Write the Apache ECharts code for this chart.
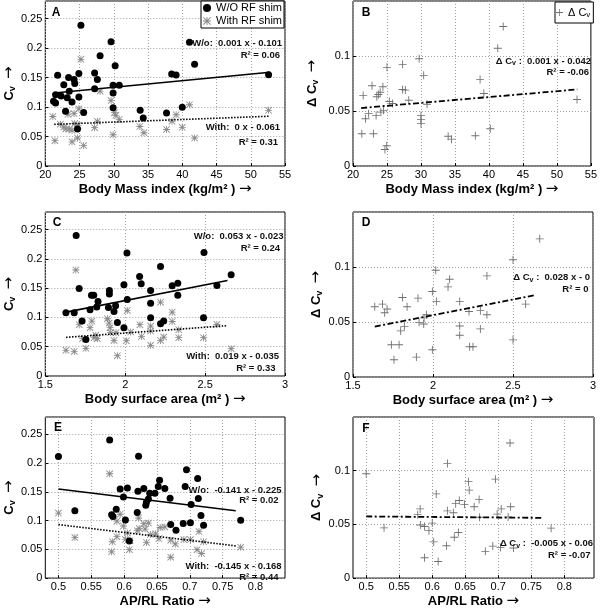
<!DOCTYPE html>
<html><head><meta charset="utf-8">
<script src="https://cdn.jsdelivr.net/npm/echarts@6/dist/echarts.min.js"></script>
<style>html,body{margin:0;padding:0;background:#fff}#c{width:600px;height:610px}</style>
</head><body><div id="c"></div>
<script>
// ---------- DATA ----------
const bmiCvWithout = [[25.2,0.239],[29.6,0.211],[41.05,0.210],[28.0,0.187],[41.8,0.1725],[30.2,0.170],[24.9,0.157],[27.2,0.158],[21.8,0.154],[23.4,0.150],[24.2,0.147],[24.3,0.140],[27.6,0.147],[22.7,0.138],[27.2,0.131],[29.9,0.137],[30.8,0.137],[23.5,0.127],[29.9,0.124],[21.5,0.121],[22.3,0.119],[23.2,0.116],[24.9,0.117],[21.2,0.110],[21.5,0.107],[23.9,0.1086],[29.9,0.099],[22.95,0.093],[25.6,0.091],[24.7,0.063],[38.45,0.156],[39.1,0.1545],[52.6,0.155],[33.85,0.0945],[34.3,0.0815],[37.7,0.090],[40.0,0.0995]];
const bmiCvWith = [[25.2,0.181],[28.0,0.127],[29.6,0.111],[21.1,0.084],[23.3,0.0877],[24.2,0.089],[24.9,0.097],[30.1,0.0905],[30.3,0.086],[30.8,0.079],[27.6,0.076],[27.2,0.065],[22.2,0.071],[22.7,0.066],[23.0,0.063],[23.5,0.063],[23.9,0.0605],[24.3,0.072],[24.8,0.069],[21.4,0.043],[23.9,0.041],[24.7,0.0475],[25.6,0.035],[29.9,0.053],[33.8,0.067],[34.4,0.0565],[37.7,0.062],[38.5,0.076],[39.1,0.087],[40.0,0.0656],[41.05,0.104],[41.8,0.0475],[52.6,0.0945]];
const bmiDeltaCv = [[29.73,0.0975],[27.3,0.0924],[25.0,0.0897],[30.4,0.0824],[22.8,0.0729],[24.4,0.072],[27.3,0.0696],[27.7,0.069],[24.0,0.067],[23.75,0.065],[21.5,0.064],[23.5,0.063],[28.2,0.0598],[25.35,0.0586],[25.8,0.0568],[30.9,0.0561],[22.3,0.0476],[24.1,0.049],[24.5,0.0506],[23.4,0.0458],[21.85,0.043],[30.0,0.046],[30.0,0.0424],[30.0,0.0385],[21.3,0.0293],[23.0,0.0293],[24.96,0.0184],[24.7,0.015],[34.0,0.0271],[42.1,0.1268],[41.3,0.107],[38.7,0.0787],[39.25,0.0659],[40.2,0.0339],[38.0,0.0275],[34.5,0.0244],[52.96,0.0604]];
const bsaCvWithout = [[2.221,0.187],[2.09,0.170],[2.10,0.1575],[1.712,0.1495],[1.992,0.1557],[1.901,0.146],[1.901,0.140],[1.789,0.138],[1.803,0.138],[2.159,0.146],[2.294,0.154],[2.329,0.1585],[2.329,0.138],[2.013,0.1307],[1.830,0.127],[1.629,0.108],[1.681,0.108],[1.780,0.113],[1.822,0.1176],[1.895,0.117],[1.940,0.120],[1.93,0.110],[2.159,0.124],[2.159,0.0995],[1.730,0.0937],[1.951,0.0915],[1.992,0.0825],[1.754,0.0625],[2.221,0.089],[2.241,0.0937],[2.49,0.0995],[1.693,0.240],[2.011,0.210],[2.493,0.211],[2.663,0.173],[2.574,0.1546]];
const bsaCvWith = [[1.691,0.181],[2.221,0.126],[2.013,0.112],[2.294,0.109],[2.294,0.093],[1.889,0.0978],[1.791,0.0937],[1.899,0.0903],[1.712,0.0876],[1.780,0.0825],[2.092,0.0876],[2.159,0.0852],[2.159,0.0767],[1.905,0.0825],[2.335,0.079],[2.49,0.0654],[1.816,0.0694],[1.909,0.074],[1.942,0.074],[2.034,0.075],[1.733,0.0637],[1.805,0.0654],[1.826,0.0637],[1.93,0.0608],[2.007,0.0603],[2.102,0.0676],[2.221,0.0608],[2.241,0.0665],[2.335,0.0654],[2.159,0.0523],[1.629,0.0438],[1.681,0.042],[1.754,0.0472],[1.951,0.0347],[2.574,0.088],[2.663,0.0467]];
const bsaDeltaCv = [[2.017,0.097],[2.104,0.0889],[2.337,0.0919],[2.094,0.0819],[1.996,0.0777],[1.809,0.0723],[1.906,0.0717],[2.021,0.0687],[2.167,0.0687],[1.636,0.0639],[1.684,0.0663],[1.713,0.0618],[1.698,0.0584],[1.838,0.0639],[2.225,0.0596],[2.296,0.0603],[2.337,0.0566],[1.959,0.0566],[1.944,0.0537],[1.913,0.0497],[1.942,0.0482],[1.821,0.046],[2.167,0.0464],[1.798,0.0419],[2.167,0.038],[2.296,0.0437],[1.74,0.0293],[1.788,0.0293],[2.229,0.0275],[2.25,0.0275],[1.996,0.0248],[1.896,0.0181],[1.756,0.0157],[2.667,0.1256],[2.50,0.1066],[2.579,0.0663],[2.50,0.0338]];
const ratioCvWithout = [[0.578,0.240],[0.622,0.2116],[0.695,0.1885],[0.712,0.173],[0.654,0.170],[0.652,0.159],[0.662,0.1556],[0.630,0.1556],[0.605,0.1566],[0.594,0.1549],[0.621,0.1511],[0.693,0.159],[0.639,0.1473],[0.647,0.1473],[0.599,0.141],[0.670,0.139],[0.713,0.1384],[0.637,0.1374],[0.634,0.1318],[0.633,0.1264],[0.702,0.128],[0.588,0.1198],[0.620,0.114],[0.581,0.110],[0.583,0.107],[0.717,0.1088],[0.602,0.101],[0.671,0.093],[0.690,0.095],[0.701,0.096],[0.721,0.0918],[0.679,0.083],[0.608,0.0643],[0.5,0.2115],[0.525,0.117],[0.7775,0.1005]];
const ratioCvWith = [[0.578,0.1813],[0.594,0.111],[0.622,0.1045],[0.589,0.0989],[0.599,0.0906],[0.630,0.0946],[0.637,0.0956],[0.623,0.0863],[0.620,0.0824],[0.632,0.0852],[0.655,0.088],[0.662,0.089],[0.605,0.0786],[0.640,0.0758],[0.648,0.077],[0.589,0.072],[0.653,0.0687],[0.671,0.0659],[0.691,0.067],[0.701,0.067],[0.721,0.0632],[0.714,0.0808],[0.602,0.067],[0.609,0.065],[0.634,0.062],[0.582,0.0632],[0.678,0.0594],[0.581,0.0456],[0.608,0.0494],[0.671,0.0363],[0.711,0.0494],[0.718,0.0428],[0.5,0.113],[0.525,0.0704],[0.7775,0.0538]];
const ratioDeltaCv = [[0.7178,0.1258],[0.623,0.1068],[0.6957,0.0921],[0.655,0.0898],[0.656,0.0819],[0.606,0.0784],[0.671,0.0731],[0.641,0.0722],[0.6355,0.0693],[0.6488,0.0687],[0.6635,0.0664],[0.7187,0.0664],[0.7045,0.0644],[0.5817,0.0644],[0.623,0.0626],[0.632,0.0609],[0.6983,0.0596],[0.578,0.0591],[0.6718,0.0567],[0.715,0.057],[0.6,0.0512],[0.582,0.0494],[0.5884,0.048],[0.595,0.0442],[0.6396,0.0424],[0.6334,0.038],[0.6022,0.0337],[0.6216,0.0301],[0.7034,0.0284],[0.6917,0.0298],[0.6804,0.0249],[0.5884,0.019],[0.609,0.0155],[0.5,0.0971],[0.527,0.0468],[0.723,0.028],[0.78,0.0465]];

// regression line end points
const fitBmiWithout = [[21.3,0.124],[52.8,0.159]];
const fitBmiWith = [[21.3,0.0707],[52.8,0.0845]];
const fitBmiDelta = [[21.2,0.0527],[53,0.0696]];
const fitBsaWithout = [[1.63,0.109],[2.64,0.163]];
const fitBsaWith = [[1.63,0.066],[2.64,0.086]];
const fitBsaDelta = [[1.636,0.0458],[2.642,0.0745]];
const fitRatioWithout = [[0.5,0.155],[0.77,0.117]];
const fitRatioWith = [[0.5,0.093],[0.77,0.056]];
const fitRatioDelta = [[0.5,0.0574],[0.768,0.0561]];

// tick values for the AP/RL axis
const ratioTicks = [0.5,0.55,0.6,0.65,0.7,0.75,0.8];

// ---------- CHART ----------
const FF = '"Liberation Sans", Arial, Helvetica, sans-serif';
const STAR = 'path://M4.4,0h1.2v10h-1.2z M0,4.4h10v1.2h-10z M0,0.85L0.85,0L10,9.15L9.15,10z M9.15,0L10,0.85L0.85,10L0,9.15z';
const PLUS = 'path://M4.45,0h1.1v10h-1.1z M0,4.45h10v1.1h-10z';

function grid(l,t,w,h){return {left:l,top:t,width:w,height:h,show:true,borderColor:'#000',borderWidth:1,backgroundColor:'#fff'};}
const grids = [grid(43,1,242,165),grid(353,1,240,165),grid(44,212,241,164),grid(353,212,240,165),grid(43,417,242,170),grid(353,417,241,170)];

function nameStyle(){return {fontSize:13,fontWeight:'bold',color:'#000',fontFamily:FF,lineHeight:16,
  rich:{sub:{fontSize:9,fontWeight:'bold',color:'#000',fontFamily:FF,verticalAlign:'bottom'},
        arr:{fontSize:15,fontWeight:'normal',color:'#000',fontFamily:'"DejaVu Sans", sans-serif'}}};}
function splitL(){return {show:true,lineStyle:{color:'#a0a0a0',width:1,type:[1,2]}};}
function xAx(gi,min,max,interval,name,gap,ticks){
  const a={type:'value',gridIndex:gi,min:min,max:max,name:name,nameLocation:'middle',nameGap:gap,
    nameTextStyle:nameStyle(),axisLine:{show:false},
    axisTick:{show:true,inside:true,length:3,lineStyle:{color:'#000'}},
    axisLabel:{color:'#000',fontSize:11,fontFamily:FF,margin:3,showMinLabel:true,showMaxLabel:true},
    splitLine:splitL()};
  if(ticks){a.axisTick.customValues=ticks;a.axisLabel.customValues=ticks;}else{a.interval=interval;}
  return a;
}
function yAx(gi,max,name,gap){
  return {type:'value',gridIndex:gi,min:0,max:max,interval:0.05,name:name,nameLocation:'middle',nameGap:gap,
    nameRotate:90,nameTextStyle:nameStyle(),axisLine:{show:false},
    axisTick:{show:true,inside:true,length:3,lineStyle:{color:'#000'}},
    axisLabel:{color:'#000',fontSize:11,fontFamily:FF,margin:3,showMaxLabel:false},
    splitLine:splitL()};
}
const xAxes=[
  xAx(0,20,55,5,'Body Mass index (kg/m² ) {arr|→}',15),
  xAx(1,20,55,5,'Body Mass index (kg/m² ) {arr|→}',15),
  xAx(2,1.5,3,0.5,'Body surface area (m² ) {arr|→}',15),
  xAx(3,1.5,3,0.5,'Body surface area (m² ) {arr|→}',15),
  xAx(4,0.48,0.845,null,'AP/RL Ratio {arr|→}',8,ratioTicks),
  xAx(5,0.48,0.845,null,'AP/RL Ratio {arr|→}',8,ratioTicks)
];
const yAxes=[
  yAx(0,0.28,'C{sub|v}  {arr|→}',23),
  yAx(1,0.15,'Δ C{sub|v}  {arr|→}',33),
  yAx(2,0.28,'C{sub|v}  {arr|→}',23),
  yAx(3,0.15,'Δ C{sub|v}  {arr|→}',29),
  yAx(4,0.28,'C{sub|v}  {arr|→}',22),
  yAx(5,0.15,'Δ C{sub|v}  {arr|→}',27)
];

const series=[];
function dots(gi,data){series.push({type:'scatter',name:'W/O RF shim',xAxisIndex:gi,yAxisIndex:gi,data:data,symbol:'circle',symbolSize:7,itemStyle:{color:'#000',opacity:1},z:3});}
function stars(gi,data){series.push({type:'scatter',name:'With RF shim',xAxisIndex:gi,yAxisIndex:gi,data:data,symbol:STAR,symbolSize:7,itemStyle:{color:'#8a8a8a',opacity:1},z:2});}
function pluses(gi,data){series.push({type:'scatter',name:'dCv',xAxisIndex:gi,yAxisIndex:gi,data:data,symbol:PLUS,symbolSize:8,itemStyle:{color:'#707070',opacity:1},z:2});}
function fit(gi,data,type,width){series.push({type:'line',xAxisIndex:gi,yAxisIndex:gi,data:data,symbol:'none',silent:true,
  lineStyle:{color:'#000',width:width,type:type},z:4});}

dots(0,bmiCvWithout); stars(0,bmiCvWith); fit(0,fitBmiWithout,'solid',1.6); fit(0,fitBmiWith,[1.5,1.5],1.6);
pluses(1,bmiDeltaCv); fit(1,fitBmiDelta,[6,2.5,2,2.5],1.8);
dots(2,bsaCvWithout); stars(2,bsaCvWith); fit(2,fitBsaWithout,'solid',1.6); fit(2,fitBsaWith,[1.5,1.5],1.6);
pluses(3,bsaDeltaCv); fit(3,fitBsaDelta,[6,2.5,2,2.5],1.8);
dots(4,ratioCvWithout); stars(4,ratioCvWith); fit(4,fitRatioWithout,'solid',1.6); fit(4,fitRatioWith,[1.5,1.5],1.6);
pluses(5,ratioDeltaCv); fit(5,fitRatioDelta,[6,2.5,2,2.5],1.8);

// ---------- annotations ----------
const annStyle = {fontSize:9.5,fontWeight:'bold',fontFamily:FF,fill:'#111',lineHeight:12,
  rich:{s:{fontSize:7,fontWeight:'bold',fontFamily:FF,fill:'#111',verticalAlign:'bottom'}}};
function ann(x,y,text){return {type:'text',x:x,y:y,z:50,style:Object.assign({},annStyle,{text:text,align:'right',verticalAlign:'middle'})};}
function letter(x,y,t){return {type:'text',x:x,y:y,z:50,style:{text:t,fontSize:12,fontWeight:'bold',fontFamily:FF,fill:'#000',align:'center',verticalAlign:'middle'}};}
const graphics=[
  letter(56,13,'A'),letter(366,13,'B'),letter(57,222.5,'C'),letter(366,222.5,'D'),letter(58,427.5,'E'),letter(366,429,'F'),
  ann(282,43,'W/o:  0.001 x - 0.101'),ann(280,55,'R² = 0.06'),
  ann(280,127,'With:  0 x - 0.061'),ann(278,142,'R² = 0.31'),
  ann(591,61,'Δ C{s|v} :  0.001 x - 0.042'),ann(589,72.5,'R² = -0.06'),
  ann(283.5,236.7,'W/o:  0.053 x - 0.023'),ann(280,248.5,'R² = 0.24'),
  ann(279,356.7,'With:  0.019 x - 0.035'),ann(275.5,368.5,'R² = 0.33'),
  ann(590,277.5,'Δ C{s|v} :  0.028 x - 0'),ann(588.5,289.5,'R² = 0'),
  ann(281.5,490,'W/o:  -0.141 x - 0.225'),ann(278.5,500.5,'R² = 0.02'),
  ann(281.5,566.7,'With:  -0.145 x - 0.168'),ann(278.5,577,'R² = 0.44'),
  ann(593,543.7,'Δ C{s|v} :  -0.005 x - 0.06'),ann(590.5,555,'R² = -0.07')
];

const option={
  animation:false,
  backgroundColor:'#fff',
  grid:grids, xAxis:xAxes, yAxis:yAxes, series:series, graphic:graphics,
  legend:[
    {data:['W/O RF shim','With RF shim'],left:201,top:1,orient:'vertical',padding:[1,2,1,2],itemGap:1,itemWidth:8,itemHeight:8,
     borderColor:'#000',borderWidth:1,backgroundColor:'#fff',selectedMode:false,
     textStyle:{fontSize:11,fontFamily:FF,color:'#000',lineHeight:12}},
    {data:['dCv'],left:555,top:2,orient:'vertical',padding:[4,3,4,1],itemWidth:7,itemHeight:7,
     borderColor:'#000',borderWidth:1,backgroundColor:'#fff',selectedMode:false,
     formatter:'Δ C{sub|v}',
     textStyle:{fontSize:11,fontFamily:FF,color:'#000',lineHeight:13,
       rich:{sub:{fontSize:8,fontFamily:FF,color:'#000',verticalAlign:'bottom'}}}}
  ]
};
const chart=echarts.init(document.getElementById('c'),null,{renderer:'canvas'});
chart.setOption(option);
</script></body></html>
